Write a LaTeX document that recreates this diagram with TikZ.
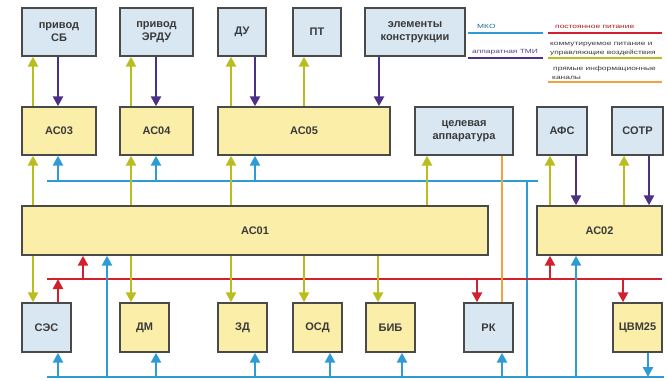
\documentclass[tikz,border=0pt]{standalone}
\usepackage{fontspec}
\setmainfont{Liberation Sans}
\usetikzlibrary{arrows.meta}
\definecolor{boxblue}{HTML}{D8E7F2}
\definecolor{boxyel}{HTML}{FAEEA8}
\definecolor{boxline}{HTML}{4A4A4A}
\definecolor{cyel}{HTML}{B9BD1E}
\definecolor{cpur}{HTML}{4E2F86}
\definecolor{cblu}{HTML}{2E9BD6}
\definecolor{cred}{HTML}{D3202E}
\definecolor{cora}{HTML}{F2A23C}
\definecolor{ctxt}{HTML}{3A3A3A}
\newcommand{\legtext}[1]{\scalebox{1.4}[1]{#1}}
\begin{document}
\begin{tikzpicture}[x=1pt,y=-1pt,
  box/.style={draw=boxline, line width=1.4pt, align=center, inner sep=1pt,
    font=\fontsize{11}{12.5}\selectfont\bfseries, text=ctxt},
  bbox/.style={box, fill=boxblue},
  ybox/.style={box, fill=boxyel},
  wire/.style={line width=2.8pt},
  arr/.style={wire, -{Triangle[width=10pt,length=10pt]}},
  yel/.style={color=cyel}, pur/.style={color=cpur}, blu/.style={color=cblu},
  red/.style={color=cred}, ora/.style={color=cora, line width=2.2pt},
  leg/.style={font=\fontsize{6}{7}\selectfont, inner sep=0pt, align=left}
]
\useasboundingbox (0,0) rectangle (668,380);

% top row
\node[bbox, minimum width=74pt, minimum height=48pt] (psb) at (59,32) {привод\\СБ};
\node[bbox, minimum width=73pt, minimum height=48pt] (perdu) at (156.5,32) {привод\\ЭРДУ};
\node[bbox, minimum width=48pt, minimum height=48pt] (du) at (242,32) {ДУ};
\node[bbox, minimum width=48pt, minimum height=48pt] (pt) at (317,32) {ПТ};
\node[bbox, minimum width=100pt, minimum height=48pt] (elem) at (415,32) {элементы\\конструкции};

% second row
\node[ybox, minimum width=74pt, minimum height=48pt] (ac03) at (59,131) {АС03};
\node[ybox, minimum width=73pt, minimum height=48pt] (ac04) at (156.5,131) {АС04};
\node[ybox, minimum width=172pt, minimum height=48pt] (ac05) at (304,131) {АС05};
\node[bbox, minimum width=98pt, minimum height=48pt] (tsel) at (464,131) {целевая\\аппаратура};
\node[bbox, minimum width=50pt, minimum height=48pt] (afs) at (562,131) {АФС};
\node[bbox, minimum width=51pt, minimum height=48pt] (sotr) at (637.5,131) {СОТР};

% third row
\node[ybox, minimum width=466pt, minimum height=49pt] (ac01) at (255,230.5) {АС01};
\node[ybox, minimum width=125pt, minimum height=49pt] (ac02) at (599.5,230.5) {АС02};

% bottom row
\node[bbox, minimum width=49pt, minimum height=49pt] (ses) at (46.5,327.5) {СЭС};
\node[ybox, minimum width=49pt, minimum height=49pt] (dm) at (144.5,327.5) {ДМ};
\node[ybox, minimum width=49pt, minimum height=49pt] (zd) at (242.5,327.5) {ЗД};
\node[ybox, minimum width=49pt, minimum height=49pt] (osd) at (317.5,327.5) {ОСД};
\node[ybox, minimum width=49pt, minimum height=49pt] (bib) at (390.5,327.5) {БИБ};
\node[bbox, minimum width=49pt, minimum height=49pt] (rk) at (488.5,327.5) {РК};
\node[ybox, minimum width=49pt, minimum height=49pt, inner sep=0pt] (cvm) at (637.5,327.5) {ЦВМ25};

% bus coordinates
\coordinate (mkoA) at (47,181);
\coordinate (mkoB) at (538,181);
\coordinate (mkoV) at (527,181);
\coordinate (mkoC) at (47,377);
\coordinate (mkoD) at (664,377);
\coordinate (pwrA) at (47,279);
\coordinate (pwrB) at (662,279);

% column coordinates
\foreach \n/\x in {c33/33,c58/58,c83/83,c107/107,c131/131,c156/156,c231/231,c255/255,
  c304/304,c330/330,c378/378,c379/379,c402/402,c427/427,c477/477,c502/502,c527/527,
  c550/550,c576/576,c623/623,c624/624,c648/648,c649/649}
  \coordinate (\n) at (\x,0);

% buses
\draw[wire, blu] (mkoA) -- (mkoB);
\draw[wire, blu] (mkoV) -- (mkoV |- mkoC);
\draw[wire, blu] (mkoC) -- (mkoD);
\draw[wire, red] (pwrA) -- (pwrB);

% top row <-> second row
\draw[arr, yel] (ac03.north -| c33) -- (psb.south -| c33);
\draw[arr, pur] (psb.south -| c58) -- (ac03.north -| c58);
\draw[arr, yel] (ac04.north -| c131) -- (perdu.south -| c131);
\draw[arr, pur] (perdu.south -| c156) -- (ac04.north -| c156);
\draw[arr, yel] (ac05.north -| c231) -- (du.south -| c231);
\draw[arr, pur] (du.south -| c255) -- (ac05.north -| c255);
\draw[arr, yel] (ac05.north -| c304) -- (pt.south -| c304);
\draw[arr, pur] (elem.south -| c379) -- (ac05.north -| c379);

% AC01 -> second row
\draw[arr, yel] (ac01.north -| c33) -- (ac03.south -| c33);
\draw[arr, yel] (ac01.north -| c131) -- (ac04.south -| c131);
\draw[arr, yel] (ac01.north -| c231) -- (ac05.south -| c231);
\draw[arr, yel] (ac01.north -| c427) -- (tsel.south -| c427);
\draw[arr, blu] (mkoA -| c58) -- (ac03.south -| c58);
\draw[arr, blu] (mkoA -| c156) -- (ac04.south -| c156);
\draw[arr, blu] (mkoA -| c255) -- (ac05.south -| c255);

% AC02 <-> AFS, SOTR
\draw[arr, yel] (ac02.north -| c550) -- (afs.south -| c550);
\draw[arr, pur] (afs.south -| c576) -- (ac02.north -| c576);
\draw[arr, yel] (ac02.north -| c624) -- (sotr.south -| c624);
\draw[arr, pur] (sotr.south -| c649) -- (ac02.north -| c649);

% orange
\draw[ora] (tsel.south -| c502) -- (rk.north -| c502);

% AC01 -> bottom row
\draw[arr, yel] (ac01.south -| c33) -- (ses.north -| c33);
\draw[arr, yel] (ac01.south -| c131) -- (dm.north -| c131);
\draw[arr, yel] (ac01.south -| c231) -- (zd.north -| c231);
\draw[arr, yel] (ac01.south -| c304) -- (osd.north -| c304);
\draw[arr, yel] (ac01.south -| c378) -- (bib.north -| c378);

% power
\draw[arr, red] (ses.north -| c58) -- (pwrA -| c58);
\draw[arr, red] (pwrA -| c83) -- (ac01.south -| c83);
\draw[arr, red] (pwrA -| c477) -- (rk.north -| c477);
\draw[arr, red] (pwrA -| c550) -- (ac02.south -| c550);
\draw[arr, red] (pwrA -| c623) -- (cvm.north -| c623);

% bottom MKO
\draw[arr, blu] (mkoC -| c107) -- (ac01.south -| c107);
\draw[arr, blu] (mkoC -| c58) -- (ses.south -| c58);
\draw[arr, blu] (mkoC -| c156) -- (dm.south -| c156);
\draw[arr, blu] (mkoC -| c255) -- (zd.south -| c255);
\draw[arr, blu] (mkoC -| c330) -- (osd.south -| c330);
\draw[arr, blu] (mkoC -| c402) -- (bib.south -| c402);
\draw[arr, blu] (mkoC -| c502) -- (rk.south -| c502);
\draw[arr, blu] (mkoC -| c576) -- (ac02.south -| c576);
\draw[arr, blu] (cvm.south -| c648) -- (mkoC -| c648);

% legend
\draw[wire, blu] (468,33) -- (543,33);
\draw[wire, pur] (468,58) -- (543,58);
\draw[wire, red] (548,33) -- (662,33);
\draw[wire, yel] (548,58) -- (662,58);
\draw[wire, color=cora] (548,82) -- (662,82);
\node[leg, text=cblu!70!black, anchor=base west] (lmko) at (477,28) {\legtext{МКО}};
\node[leg, text=cpur!80!gray, anchor=base west] (ltmi) at (472,53) {\legtext{аппаратная ТМИ}};
\node[leg, text=cred!80!black, anchor=base west] (lpwr) at (555,28) {\legtext{постоянное питание}};
\node[leg, text=ctxt, anchor=base west] (lkom1) at (550,45) {\legtext{коммутируемое питание и}};
\node[leg, text=ctxt, anchor=base west] (lkom2) at (550,54) {\legtext{управляющие воздействия}};
\node[leg, text=ctxt, anchor=base west] (linf1) at (553,70) {\legtext{прямые информационные}};
\node[leg, text=ctxt, anchor=base west] (linf2) at (552,79) {\legtext{каналы}};
\end{tikzpicture}
\end{document}
